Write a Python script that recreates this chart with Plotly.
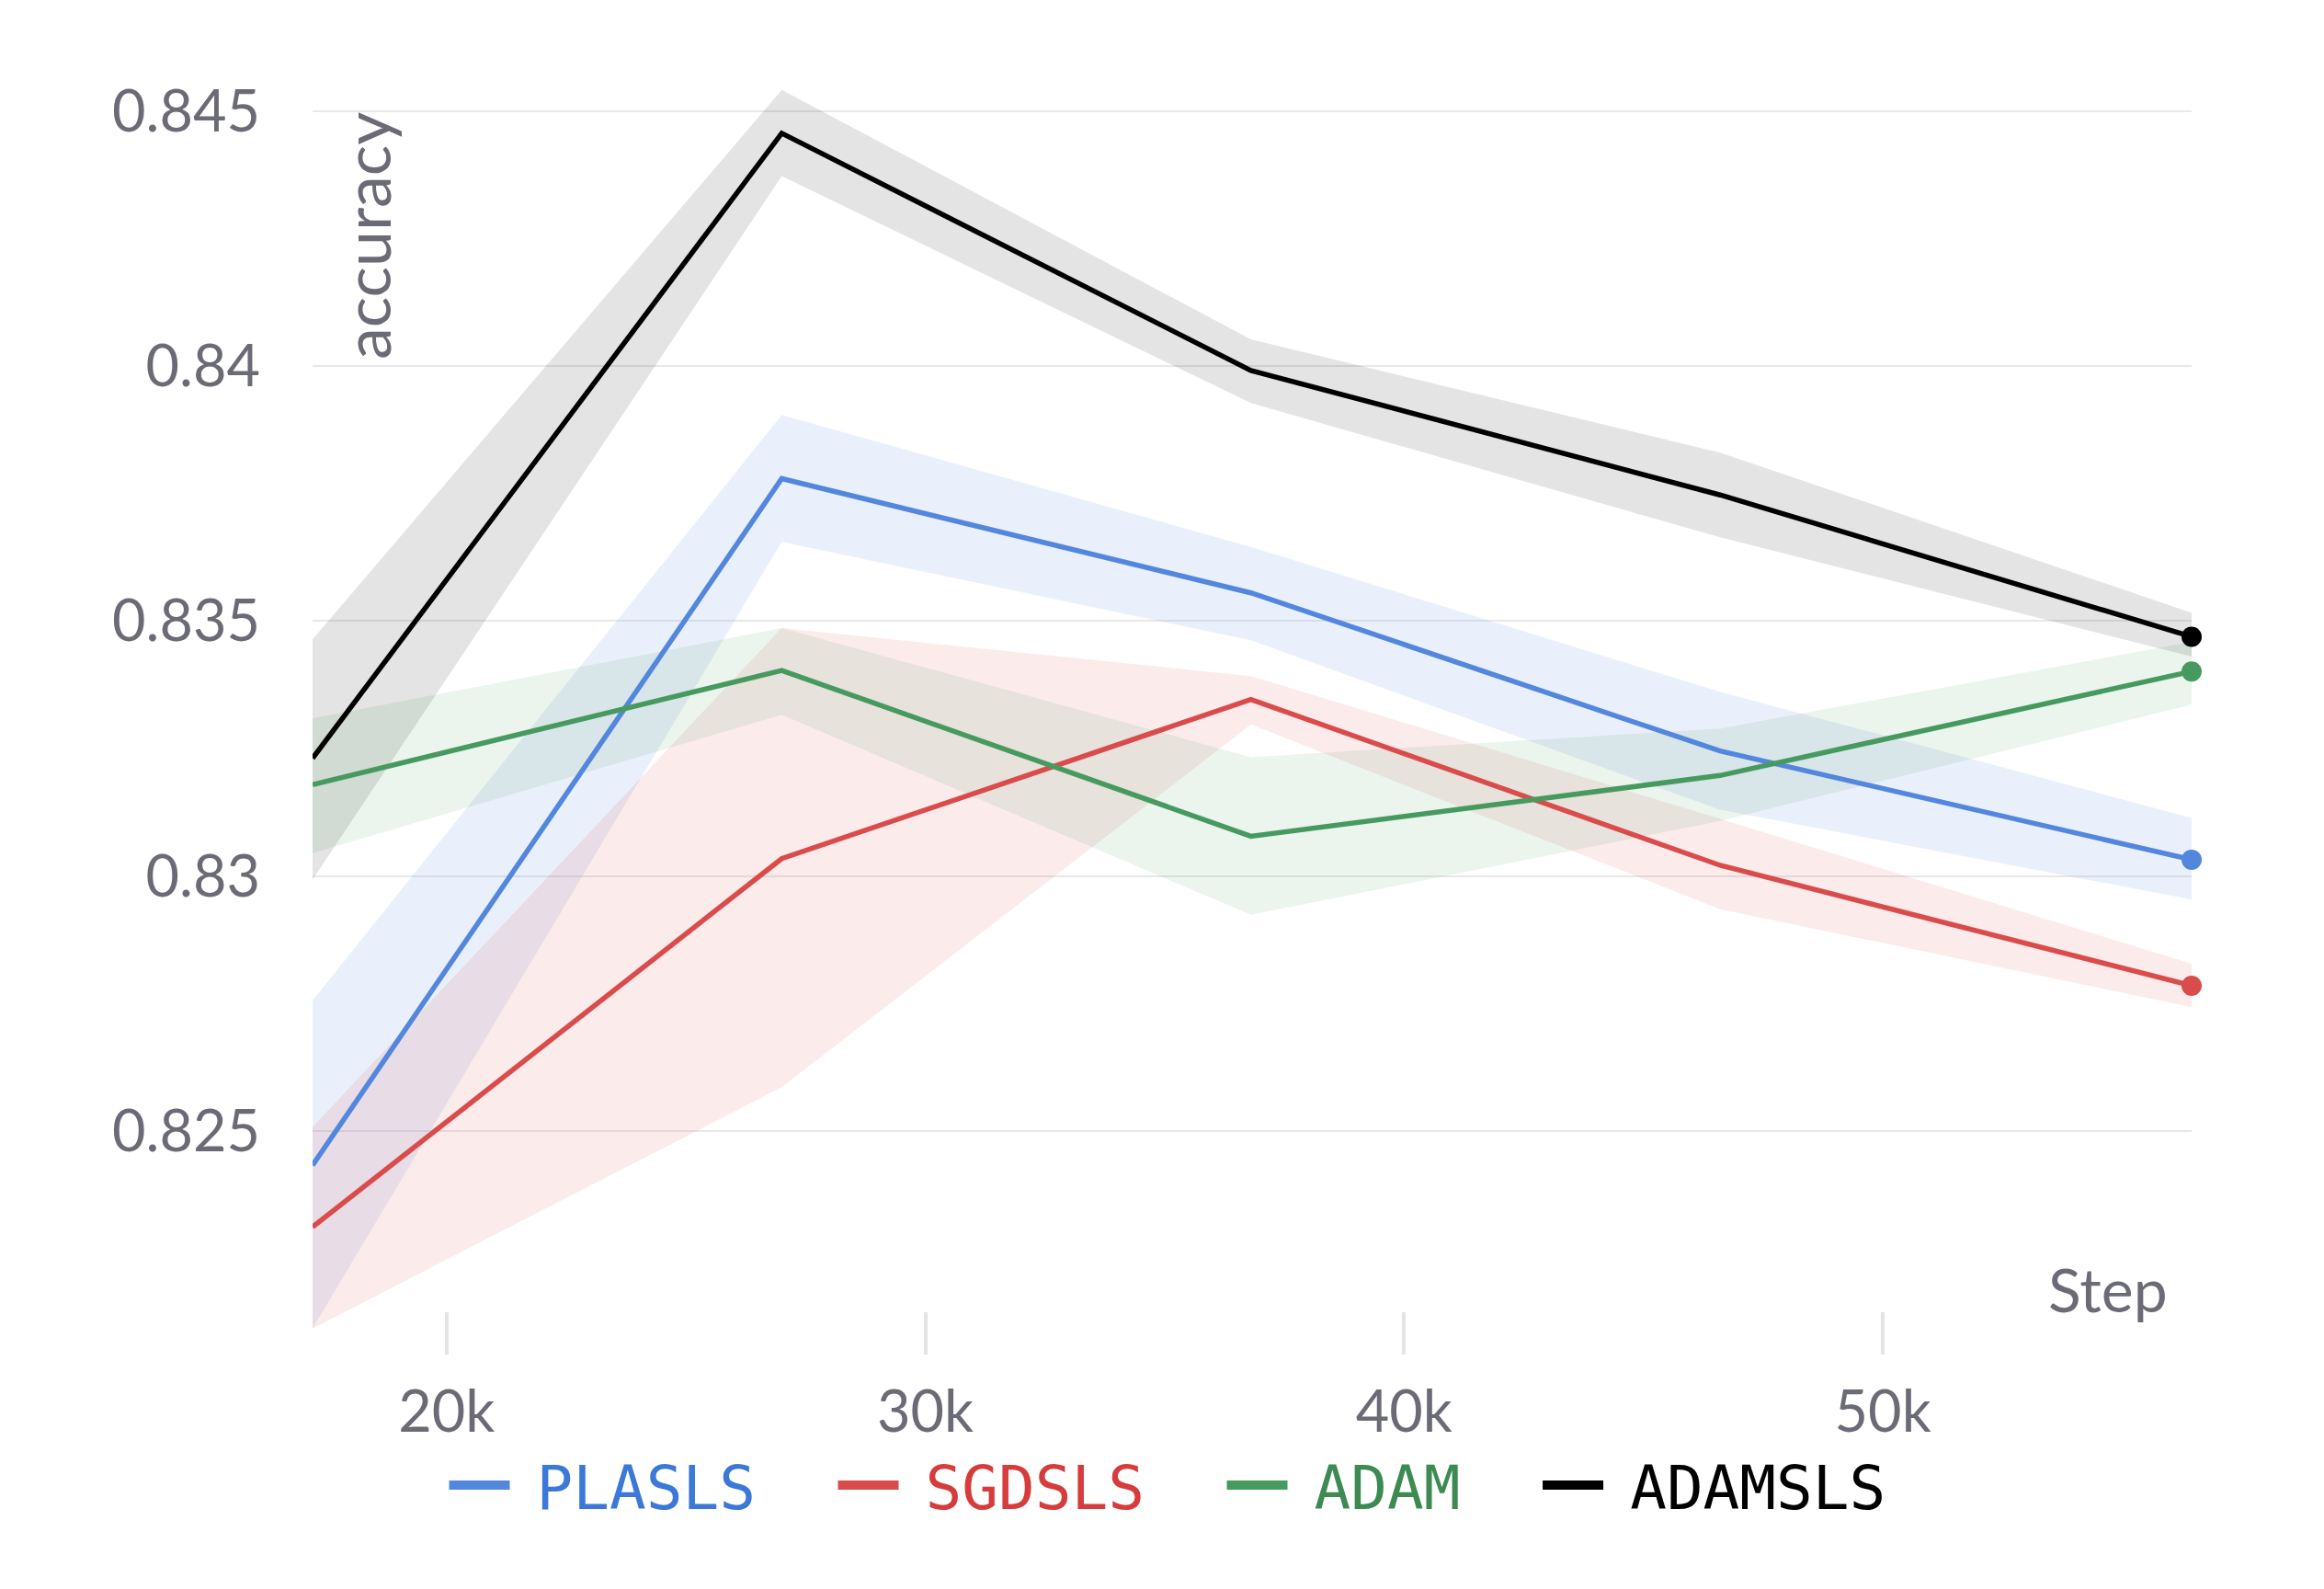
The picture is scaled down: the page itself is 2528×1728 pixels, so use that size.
import plotly.graph_objects as go

# ---- data ----
steps = [17200, 27000, 36800, 46600, 56450]

plasls_mean = [0.82433, 0.83779, 0.83555, 0.83245, 0.83032]
plasls_hi = [0.82756, 0.83904, 0.83645, 0.83361, 0.83114]
plasls_lo = [0.82113, 0.83655, 0.83462, 0.83130, 0.82954]

sgdsls_mean = [0.82312, 0.83034, 0.83346, 0.83021, 0.82785]
sgdsls_hi = [0.82508, 0.83486, 0.83392, 0.83112, 0.82828]
sgdsls_lo = [0.82113, 0.82586, 0.83297, 0.82935, 0.82743]

adam_mean = [0.83179, 0.83403, 0.83078, 0.83197, 0.83401]
adam_hi = [0.83309, 0.83486, 0.83233, 0.83289, 0.83459]
adam_lo = [0.83045, 0.83316, 0.82924, 0.83108, 0.83336]

adamsls_mean = [0.83231, 0.84456, 0.83991, 0.83747, 0.83469]
adamsls_hi = [0.83464, 0.84541, 0.84052, 0.83830, 0.83516]
adamsls_lo = [0.82993, 0.84372, 0.83927, 0.83664, 0.83430]

y_ticks = [0.825, 0.83, 0.835, 0.84, 0.845]
y_ticktext = ["0.825", "0.83", "0.835", "0.84", "0.845"]
x_ticks = [20000, 30000, 40000, 50000]
x_ticktext = ["20k", "30k", "40k", "50k"]

series = [
    ("PLASLS", plasls_mean, plasls_hi, plasls_lo, "#5387dd", "rgba(83,135,221,0.12)", "#3b78d8"),
    ("SGDSLS", sgdsls_mean, sgdsls_hi, sgdsls_lo, "#da4c4c", "rgba(218,76,76,0.11)", "#d63c3c"),
    ("ADAM", adam_mean, adam_hi, adam_lo, "#479a5f", "rgba(71,154,95,0.11)", "#3d8a52"),
    ("ADAMSLS", adamsls_mean, adamsls_hi, adamsls_lo, "#000000", "rgba(0,0,0,0.105)", "#000000"),
]

AXIS_GREY = "#6b6b76"
NB = "\u00a0"
fig = go.Figure()

# shaded min/max bands first
for name, mean, hi, lo, col, fill, _ in series:
    fig.add_trace(go.Scatter(x=steps, y=hi, mode="lines", line=dict(width=0),
                             showlegend=False, hoverinfo="skip"))
    fig.add_trace(go.Scatter(x=steps, y=lo, mode="lines", line=dict(width=0),
                             fill="tonexty", fillcolor=fill,
                             showlegend=False, hoverinfo="skip"))

# mean lines with a dot at the last point
for name, mean, hi, lo, col, fill, _ in series:
    fig.add_trace(go.Scatter(x=steps, y=mean, mode="lines", name=name,
                             line=dict(color=col, width=5.5), showlegend=False))
    fig.add_trace(go.Scatter(x=steps[-1:], y=mean[-1:], mode="markers",
                             marker=dict(color=col, size=22),
                             showlegend=False, hoverinfo="skip", cliponaxis=False))

# legend-only entries (thicker swatch, coloured text, padded spacing)
for i, (name, mean, hi, lo, col, fill, txtcol) in enumerate(series):
    tail = NB * 2 if i < len(series) - 1 else ""
    label = (f"<span style='font-size:40px'>{NB}</span>"
             f"<span style='color:{txtcol}'>{name}</span>{tail}")
    fig.add_trace(go.Scatter(x=[None], y=[None], mode="lines", name=label,
                             line=dict(color=col, width=14)))

fig.update_layout(
    width=2528, height=1728,
    paper_bgcolor="white", plot_bgcolor="white",
    margin=dict(l=340, r=144, t=80, b=255, autoexpand=False),
    font=dict(family="Lato, Noto Sans, sans-serif", size=63, color=AXIS_GREY),
    legend=dict(orientation="h", x=0.455, xanchor="center",
                y=-0.102, yanchor="middle",
                font=dict(family="DejaVu Sans Mono, monospace", size=66),
                itemwidth=66, traceorder="normal"),
    annotations=[
        dict(text="accuracy", textangle=-90, showarrow=False,
             xref="paper", x=0, xanchor="left", xshift=14,
             yref="y", y=0.845, yanchor="top",
             font=dict(size=70, color=AXIS_GREY)),
        dict(text="Step", showarrow=False,
             xref="paper", x=1, xanchor="right", xshift=-24,
             yref="paper", y=0, yanchor="bottom", yshift=30,
             font=dict(size=66, color=AXIS_GREY)),
    ],
)

fig.update_xaxes(
    range=[steps[0], steps[-1]],
    tickvals=x_ticks, ticktext=x_ticktext,
    showgrid=False, zeroline=False, showline=False,
    ticks="inside", ticklen=46, tickwidth=4, tickcolor="#e4e4e6",
    ticklabelstandoff=20,
)
fig.update_yaxes(
    range=[0.82062, 0.84573],
    tickvals=y_ticks, ticktext=y_ticktext,
    showgrid=True, gridcolor="#e8e8ea", gridwidth=2,
    zeroline=False, showline=False, ticks="",
    ticklabelstandoff=56,
)

fig.write_html("out.html", config={"displayModeBar": False},
               post_script="document.body.style.margin='0';")
